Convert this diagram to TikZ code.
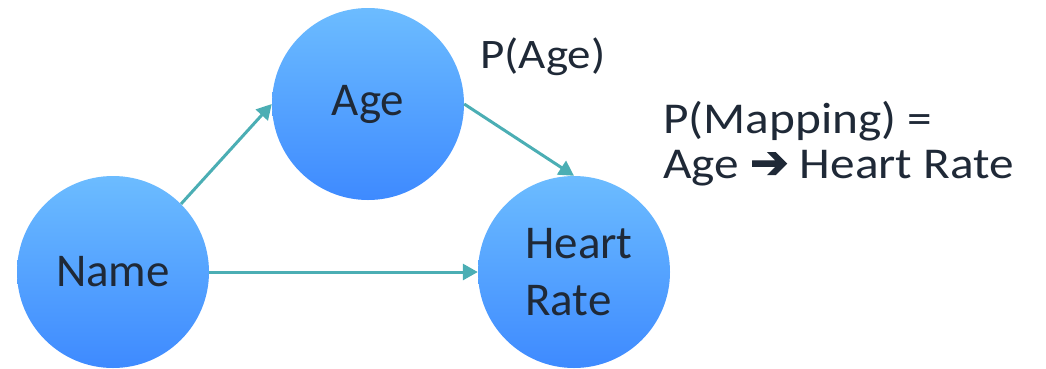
\documentclass[tikz,border=0pt]{standalone}
\usepackage{fontspec}
\setmainfont{Carlito}
\newfontfamily\widefont[FakeStretch=1.12]{Carlito}
\newfontfamily\symfont[FakeBold=2.5]{DejaVu Sans}
\usetikzlibrary{arrows.meta}
\definecolor{txt}{RGB}{31,41,55}
\definecolor{topblue}{RGB}{108,188,255}
\definecolor{botblue}{RGB}{62,138,255}
\definecolor{teal}{RGB}{75,174,180}
\tikzset{
  ball/.style={circle, minimum size=192pt, inner sep=0pt, top color=topblue, bottom color=botblue, text=txt, font=\fontsize{47}{57}\selectfont, align=left},
  link/.style={draw=teal, line width=3pt, -{Triangle[length=15pt,width=16pt]}},
  lbl/.style={text=txt, inner sep=0pt, align=left}
}
\begin{document}
\begin{tikzpicture}[x=1pt,y=-1pt]
\useasboundingbox (0,0) rectangle (1046,368);
\node[ball] (age) at (368,104) {\raisebox{-3pt}{Age}};
\node[ball] (name) at (113,272) {\raisebox{-4pt}{Name}};
\node[ball] (hr) at (574,272) {\hspace*{10pt}Heart\\\hspace*{10pt}Rate};
\draw[link] (name.45) -- (age.west);
\draw[link] (age.east) -- (hr.north);
\draw[link] (name.east) -- (hr.west);
\node[lbl, anchor=base west, font=\widefont\fontsize{42}{45}\selectfont] (page) at (480,68) {P(Age)};
\node[lbl, anchor=base west, font=\widefont\fontsize{44}{45}\selectfont] (pmap) at (663,178) {P(Mapping) =\\Age {\symfont\fontsize{46}{45}\selectfont ➔} Heart Rate};
\end{tikzpicture}
\end{document}
